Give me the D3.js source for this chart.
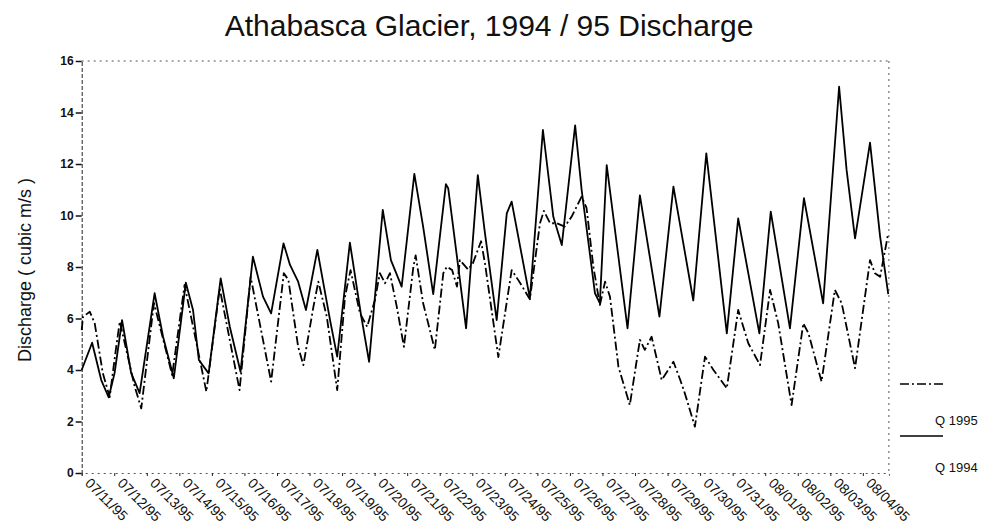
<!DOCTYPE html>
<html>
<head>
<meta charset="utf-8">
<script src="https://cdn.jsdelivr.net/npm/d3@7"></script>
<style>
  html, body { margin: 0; padding: 0; background: #fff; }
  svg { display: block; font-family: "Liberation Sans", Arial, Helvetica, sans-serif; }
</style>
</head>
<body>
<svg id="chart" width="986" height="531"></svg>
<script>
// ---- data (day offsets from 07/11/95, discharge in cubic m/s) ----
const dateLabels = ["07/11/95","07/12/95","07/13/95","07/14/95","07/15/95","07/16/95","07/17/95",
  "07/18/95","07/19/95","07/20/95","07/21/95","07/22/95","07/23/95","07/24/95","07/25/95",
  "07/26/95","07/27/95","07/28/95","07/29/95","07/30/95","07/31/95","08/01/95","08/02/95",
  "08/03/95","08/04/95"];
const yTicks = [0, 2, 4, 6, 8, 10, 12, 14, 16];

const t1994 = [0, 0.32, 0.60, 0.83, 1.01, 1.24, 1.52, 1.78, 2.24, 2.50, 2.83, 3.20, 3.42, 3.60, 3.90,
  4.27, 4.55, 4.88, 5.26, 5.57, 5.82, 6.20, 6.40, 6.65, 6.89, 7.24, 7.63, 7.85, 8.24, 8.58, 8.83,
  9.25, 9.50, 9.83, 10.22, 10.49, 10.80, 11.19, 11.26, 11.81, 12.17, 12.39, 12.75, 13.06, 13.21,
  13.77, 14.17, 14.49, 14.75, 15.16, 15.36, 15.77, 15.92, 16.13, 16.77, 17.15, 17.75, 18.18, 18.79,
  19.19, 19.82, 20.17, 20.82, 21.17, 21.76, 22.19, 22.78, 23.27, 23.50, 23.76, 24.22, 24.53, 24.78];
const q1994 = [4.0, 5.06, 3.61, 2.94, 3.88, 5.94, 3.88, 3.10, 6.98, 5.29, 3.68, 7.39, 6.33, 4.39, 3.87,
  7.56, 5.68, 3.93, 8.40, 6.85, 6.20, 8.92, 8.08, 7.43, 6.33, 8.66, 5.94, 4.52, 8.95, 6.15, 4.32,
  10.22, 8.27, 7.24, 11.62, 9.57, 6.95, 11.22, 11.06, 5.62, 11.57, 9.31, 5.94, 10.08, 10.54,
  6.78, 13.32, 9.95, 8.85, 13.50, 10.99, 6.98, 6.60, 11.96, 5.62, 10.78, 6.07, 11.12, 6.70,
  12.41, 5.42, 9.89, 5.42, 10.15, 5.62, 10.67, 6.59, 15.0, 11.77, 9.11, 12.83, 9.18, 6.95];

const t1995 = [0, 0.04, 0.25, 0.40, 0.65, 0.86, 1.06, 1.17, 1.63, 1.83, 2.22, 2.78, 3.16, 3.83, 4.24,
  4.85, 5.19, 5.82, 6.21, 6.35, 6.65, 6.81, 7.12, 7.27, 7.53, 7.85, 8.09, 8.26, 8.55, 8.77, 9.01,
  9.16, 9.32, 9.47, 9.68, 9.90, 10.19, 10.26, 10.49, 10.85, 11.11, 11.22, 11.38, 11.53, 11.62,
  11.87, 12.02, 12.27, 12.39, 12.80, 13.21, 13.41, 13.77, 14.08, 14.20, 14.39, 14.59, 14.84, 15.05,
  15.36, 15.51, 15.72, 15.92, 16.08, 16.23, 16.49, 16.84, 17.15, 17.30, 17.51, 17.82, 18.18, 18.39,
  18.53, 18.84, 19.15, 19.41, 19.82, 20.17, 20.48, 20.84, 21.15, 21.40, 21.81, 22.17, 22.33, 22.73,
  23.14, 23.35, 23.76, 24.22, 24.37, 24.53, 24.78];
const q1995 = [5.55, 6.07, 6.26, 5.81, 3.87, 2.95, 4.90, 5.88, 3.35, 2.51, 6.60, 3.80, 7.30, 3.16, 7.17,
  3.22, 7.62, 3.55, 7.76, 7.50, 4.90, 4.19, 6.46, 7.43, 6.07, 3.22, 6.85, 7.88, 6.20, 5.68, 6.72,
  7.76, 7.37, 7.76, 6.46, 4.90, 8.01, 8.45, 6.59, 4.78, 7.76, 8.01, 7.88, 7.24, 8.27,
  7.90, 8.15, 9.00, 8.14, 4.50, 7.88, 7.50, 6.75, 9.70, 10.18, 9.70, 9.70, 9.57, 9.95,
  10.73, 10.30, 8.01, 6.52, 7.43, 6.85, 4.13, 2.64, 5.17, 4.78, 5.29, 3.61, 4.32, 3.61,
  3.10, 1.80, 4.52, 4.00, 3.29, 6.33, 5.04, 4.19, 7.11, 5.81, 2.64, 5.81, 5.42, 3.55,
  7.11, 6.59, 4.07, 8.27, 7.76, 7.62, 9.31];

const legendLabels = ["Q 1995", "Q 1994"];
const titleText = "Athabasca Glacier, 1994 / 95 Discharge";
const yLabel = "Discharge ( cubic m/s )";

// ---- drawing ----
const svg = d3.select("#chart");
const L = 81.7, R = 888.9, T = 61, B = 473;

const x = d3.scaleLinear().domain([0, 24.8]).range([L, R]);
const y = d3.scaleLinear().domain([0, 16]).range([B, T]);

// title
svg.append("text")
  .attr("x", 489).attr("y", 36)
  .attr("text-anchor", "middle")
  .attr("font-size", 30)
  .attr("fill", "#111")
  .text(titleText);

// y label
svg.append("text")
  .attr("transform", "translate(31,270) rotate(-90)")
  .attr("text-anchor", "middle")
  .attr("font-size", 18)
  .attr("fill", "#111")
  .text(yLabel);

// frame (dotted, scanned look)
const frame = svg.append("g").attr("stroke", "#555").attr("stroke-width", 1).attr("fill", "none");
frame.append("line").attr("x1", L).attr("x2", R).attr("y1", T).attr("y2", T).attr("stroke-dasharray", "2,4");
frame.append("line").attr("x1", R).attr("x2", R).attr("y1", T).attr("y2", B).attr("stroke-dasharray", "2,4");

// y axis
const yAxis = svg.append("g")
  .attr("transform", `translate(${L},0)`)
  .call(d3.axisLeft(y).tickValues(yTicks).tickSize(6).tickPadding(2).tickFormat(d3.format("d")));
yAxis.select(".domain").attr("stroke", "#222").attr("stroke-dasharray", "4,2");
yAxis.selectAll(".tick line").attr("stroke", "#111").attr("stroke-width", 1.5);
yAxis.selectAll(".tick text")
  .attr("font-size", 12).attr("font-weight", "bold").attr("fill", "#111")
  .attr("font-family", "'Liberation Sans', Arial, sans-serif");

// x axis
const xAxis = svg.append("g")
  .attr("transform", `translate(0,${B})`)
  .call(d3.axisBottom(x).tickValues(d3.range(dateLabels.length)).tickSize(3)
    .tickFormat((d, i) => dateLabels[i]));
xAxis.select(".domain").attr("stroke", "#555").attr("stroke-dasharray", "2,4");
xAxis.selectAll(".tick line").attr("stroke", "#222");
xAxis.selectAll(".tick text")
  .attr("font-size", 14).attr("fill", "#111")
  .attr("font-family", "'Liberation Sans', Arial, sans-serif")
  .attr("text-anchor", "start")
  .attr("dy", null)
  .attr("y", 0)
  .attr("transform", "translate(2,11) rotate(45)");

// lines
const line = d3.line().x(d => x(d[0])).y(d => y(d[1]));
const d1994 = t1994.map((t, i) => [t, q1994[i]]);
const d1995 = t1995.map((t, i) => [t, q1995[i]]);

svg.append("path").datum(d1995)
  .attr("fill", "none").attr("stroke", "#000").attr("stroke-width", 1.8)
  .attr("stroke-linejoin", "round")
  .attr("stroke-dasharray", "9,3,2,3")
  .attr("d", line);
svg.append("path").datum(d1994)
  .attr("fill", "none").attr("stroke", "#000").attr("stroke-width", 1.8)
  .attr("stroke-linejoin", "round")
  .attr("d", line);

// legend
const lg = svg.append("g");
lg.append("line").attr("x1", 900).attr("x2", 943).attr("y1", 384).attr("y2", 384)
  .attr("stroke", "#000").attr("stroke-width", 1.6).attr("stroke-dasharray", "9,3,2,3");
lg.append("text").attr("x", 935).attr("y", 425).attr("font-size", 13).attr("fill", "#111").text(legendLabels[0]);
lg.append("line").attr("x1", 900).attr("x2", 943).attr("y1", 436).attr("y2", 436)
  .attr("stroke", "#000").attr("stroke-width", 1.6);
lg.append("text").attr("x", 935).attr("y", 472).attr("font-size", 13).attr("fill", "#111").text(legendLabels[1]);
</script>
</body>
</html>
